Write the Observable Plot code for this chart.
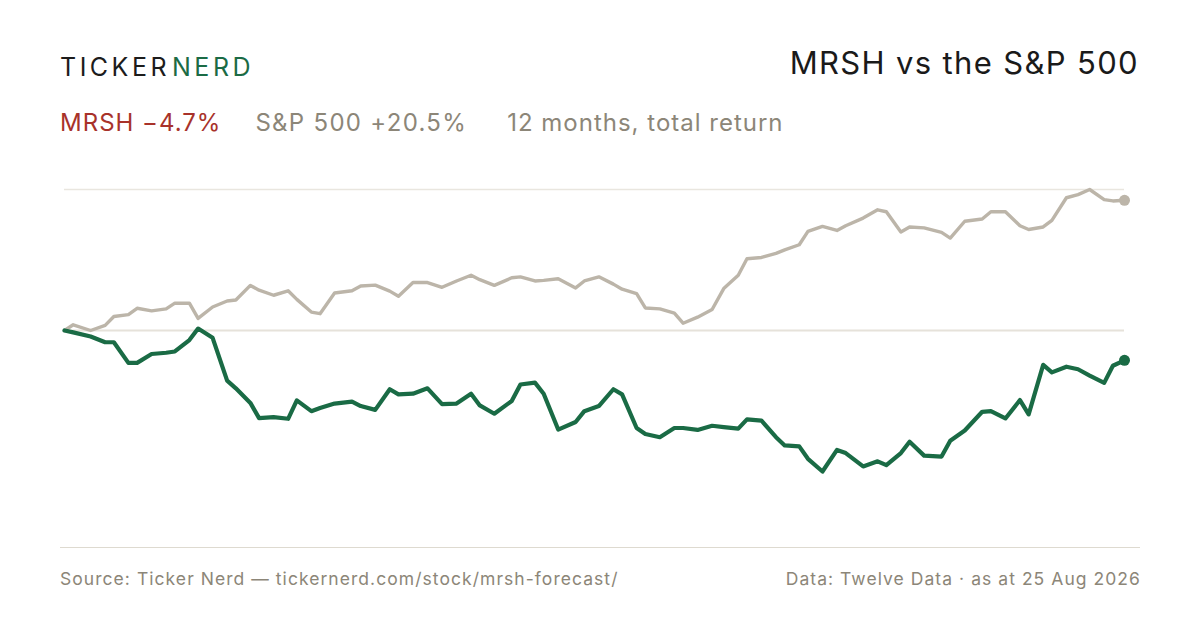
<!DOCTYPE html>
<html>
<head>
<meta charset="utf-8">
<script src="https://cdn.jsdelivr.net/npm/d3@7"></script>
<script src="https://cdn.jsdelivr.net/npm/@observablehq/plot@0.6"></script>
<style>
  html, body { margin: 0; padding: 0; background: #fff; }
  body { width: 1200px; height: 630px; position: relative; overflow: hidden; font-family: Inter, "Noto Sans", sans-serif; }
  .abs { position: absolute; white-space: nowrap; }
  #brand { left: 60px; top: 52px; font-size: 25px; letter-spacing: 3.5px; color: #1c1c1c; font-weight: 400; }
  #brand .nerd { color: #1b6b45; margin-left: 2px; }
  #title { right: 61px; top: 44px; font-size: 31px; letter-spacing: 1.35px; color: #1a1a1a; font-weight: 400; }
  #sub { left: 60px; top: 108px; font-size: 24px; letter-spacing: 1.0px; color: #8c8678; }
  #sub .m { color: #a8322a; margin-right: 34px; }
  #sub .s { margin-right: 40px; letter-spacing: 1.3px; }
  #chart { left: 0; top: 160px; }
  #rule { left: 60px; top: 547px; width: 1080px; height: 0; border-top: 1.5px solid #dedad0; }
  #src { left: 60px; top: 568px; font-size: 17.5px; letter-spacing: 1.05px; color: #8c8678; }
  #dat { right: 59px; top: 568px; font-size: 17.5px; letter-spacing: 1.05px; color: #8c8678; }
</style>
</head>
<body>
<div id="brand" class="abs">TICKER<span class="nerd">NERD</span></div>
<div id="title" class="abs">MRSH vs the S&amp;P 500</div>
<div id="sub" class="abs"></div>
<div id="chart" class="abs"></div>
<div id="rule" class="abs"></div>
<div id="src" class="abs">Source: Ticker Nerd — tickernerd.com/stock/mrsh-forecast/</div>
<div id="dat" class="abs">Data: Twelve Data · as at 25 Aug 2026</div>
<script>
// Day offsets from 25 Aug 2025
const days = [0,3,9,14,17,22,25,30,35,38,43,46,51,56,59,64,67,72,77,80,85,88,93,99,102,107,112,115,120,125,130,135,140,143,148,154,157,162,165,170,176,179,184,189,192,197,200,205,210,213,218,223,227,232,235,240,245,248,253,256,261,266,269,275,280,283,288,291,296,302,305,310,316,319,324,329,332,337,340,345,349,353,358,361,365];
// S&P 500 total return, %
const spx = [0,0.9,0.0,0.8,2.2,2.5,3.5,3.1,3.4,4.3,4.3,1.9,3.7,4.65,4.8,7.1,6.35,5.55,6.25,4.9,2.9,2.65,5.9,6.25,7.0,7.15,6.2,5.4,7.55,7.55,6.8,7.8,8.7,8.0,7.1,8.3,8.45,7.8,7.9,8.15,6.7,7.8,8.45,7.3,6.5,5.8,3.55,3.4,2.75,1.15,2.1,3.3,6.6,8.7,11.3,11.5,12.15,12.7,13.5,15.6,16.4,15.75,16.5,17.7,19.0,18.7,15.5,16.3,16.15,15.45,14.55,17.2,17.55,18.7,18.7,16.5,15.9,16.3,17.35,20.9,21.4,22.2,20.6,20.4,20.5];
// MRSH total return, %
const mrsh = [0,-0.3,-0.95,-1.85,-1.85,-5.1,-5.1,-3.7,-3.5,-3.3,-1.5,0.3,-1.15,-7.9,-9.1,-11.4,-13.8,-13.65,-13.9,-11.0,-12.7,-12.2,-11.5,-11.2,-11.9,-12.5,-9.25,-10.05,-9.95,-9.1,-11.6,-11.5,-9.95,-11.8,-13.1,-11.1,-8.5,-8.2,-9.95,-15.6,-14.4,-12.7,-11.9,-9.25,-10.05,-15.35,-16.3,-16.8,-15.35,-15.35,-15.65,-15.0,-15.2,-15.45,-14.0,-14.2,-16.8,-18.1,-18.25,-20.2,-22.2,-18.8,-19.3,-21.4,-20.6,-21.2,-19.3,-17.5,-19.7,-19.85,-17.35,-15.75,-12.8,-12.7,-13.85,-10.95,-13.2,-5.4,-6.6,-5.7,-6.1,-7.1,-8.25,-5.55,-4.7];
const seriesNames = ["MRSH", "S&P 500"];
const periodLabel = "12 months, total return";
const startDate = new Date(Date.UTC(2025, 7, 25));

const fmt = v => (v < 0 ? "\u2212" : "+") + Math.abs(v).toFixed(1) + "%";
const sub = document.getElementById("sub");
sub.innerHTML = `<span class="m">${seriesNames[0]} ${fmt(mrsh[mrsh.length-1])}</span><span class="s">${seriesNames[1]} ${fmt(spx[spx.length-1])}</span><span>${periodLabel}</span>`;

const dates = days.map(d => d3.utcDay.offset(startDate, d));
const rowsS = dates.map((date, i) => ({date, v: spx[i]}));
const rowsM = dates.map((date, i) => ({date, v: mrsh[i]}));
const spMax = d3.max(spx);

const green = "#1a6b45", grey = "#bcb5a9";
const chart = Plot.plot({
  width: 1200,
  height: 390,
  marginLeft: 64,
  marginRight: 76,
  marginTop: 29,
  marginBottom: 29,
  x: {type: "utc", domain: [dates[0], dates[dates.length-1]], axis: null},
  y: {domain: [-30, spMax], range: [170 + 30 * (141 / spMax), 29], axis: null},
  marks: [
    Plot.ruleY([spMax], {stroke: "#e9e6df", strokeWidth: 1.3}),
    Plot.ruleY([0], {stroke: "#e6e2da", strokeWidth: 2}),
    Plot.line(rowsS, {x: "date", y: "v", stroke: grey, strokeWidth: 3.4, strokeLinejoin: "round", strokeLinecap: "round"}),
    Plot.line(rowsM, {x: "date", y: "v", stroke: green, strokeWidth: 4.2, strokeLinejoin: "round", strokeLinecap: "round"}),
    Plot.dot([rowsS[rowsS.length-1]], {x: "date", y: "v", r: 5.5, fill: grey}),
    Plot.dot([rowsM[rowsM.length-1]], {x: "date", y: "v", r: 5.5, fill: green})
  ]
});
document.getElementById("chart").appendChild(chart);
</script>
</body>
</html>
